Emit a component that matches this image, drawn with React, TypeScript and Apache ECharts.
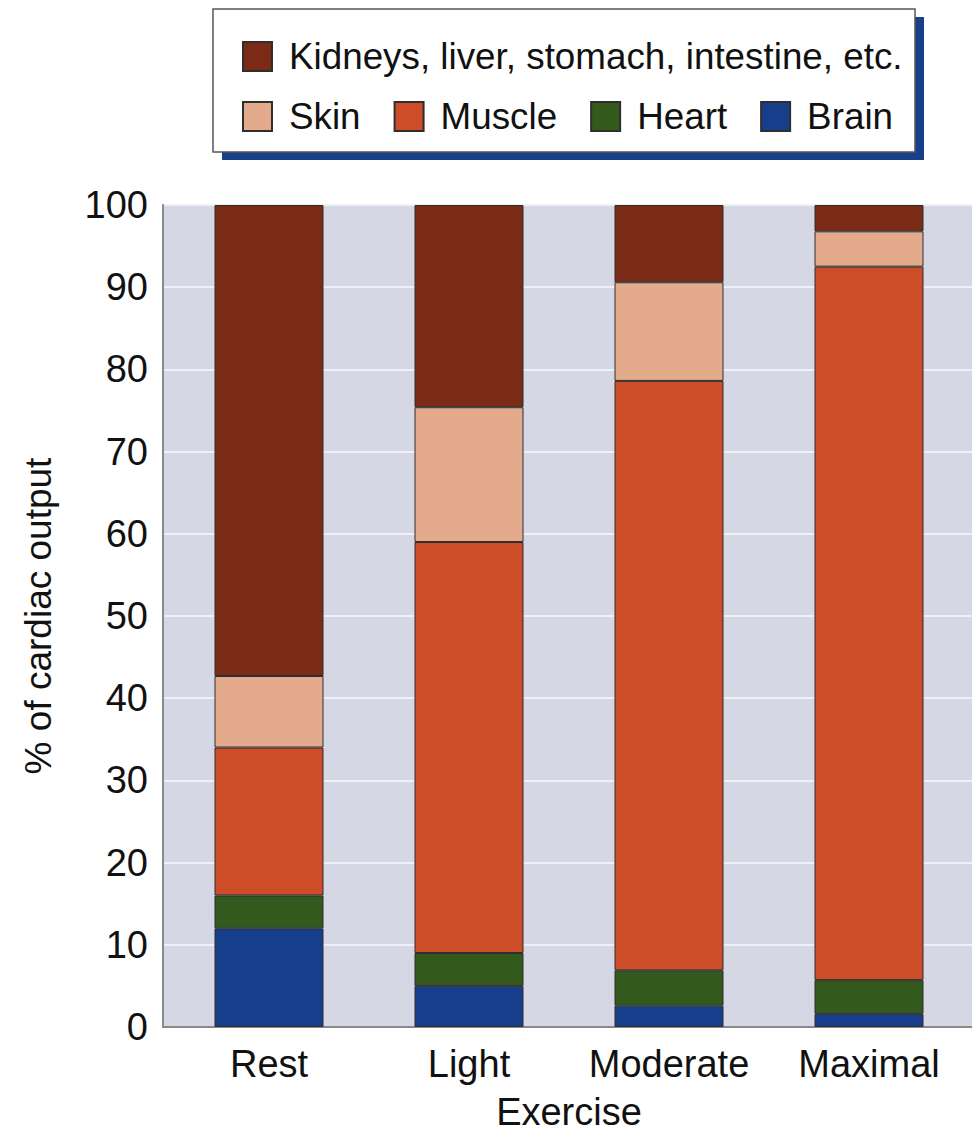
import React, { useEffect, useRef } from "react";
import * as echarts from "echarts";

const categories = ["Rest", "Light", "Moderate", "Maximal"];
const brain = [12, 5, 2.6, 1.6];
const heart = [4, 4, 4.3, 4.1];
const muscle = [18, 50, 71.7, 86.8];
const skin = [8.7, 16.4, 12, 4.3];
const kidneys = [57.3, 24.6, 9.4, 3.2];

const seriesNames = {
  kidneys: "Kidneys, liver, stomach, intestine, etc.",
  skin: "Skin",
  muscle: "Muscle",
  heart: "Heart",
  brain: "Brain",
};

const colors = {
  kidneys: "#7b2a15",
  skin: "#e3ab8c",
  muscle: "#cd4d29",
  heart: "#34591c",
  brain: "#173e8a",
};

const FONT = "'Liberation Sans', Arial, Helvetica, sans-serif";

export default function App() {
  const ref = useRef<HTMLDivElement>(null);
  useEffect(() => {
    if (!ref.current) return;
    const chart = echarts.init(ref.current, null, { renderer: "svg" });
    const mk = (key: keyof typeof colors, data: number[]) => ({
      name: seriesNames[key],
      type: "bar",
      stack: "total",
      xAxisIndex: 1,
      yAxisIndex: 1,
      barWidth: 109,
      data,
      itemStyle: { color: colors[key], borderColor: "#2e2e2e", borderWidth: 1 },
    });
    const legendText = {
      fontFamily: FONT,
      fontSize: 36.8,
      color: "#111",
      lineHeight: 37,
      padding: [0, 0, 0, 12],
    };
    chart.setOption({
      animation: false,
      backgroundColor: "#ffffff",
      textStyle: { fontFamily: FONT },
      graphic: [
        {
          type: "rect",
          z: 0,
          shape: { x: 222, y: 17, width: 702, height: 143 },
          style: { fill: "#173f8a" },
        },
        {
          type: "rect",
          z: 1,
          shape: { x: 213, y: 9, width: 702, height: 143 },
          style: { fill: "#ffffff", stroke: "#555555", lineWidth: 1.5 },
        },
      ],
      legend: [
        {
          data: [seriesNames.kidneys],
          left: 242,
          top: 38,
          padding: 0,
          itemWidth: 29,
          itemHeight: 29,
          icon: "rect",
          textStyle: legendText,
          z: 5,
        },
        {
          data: [seriesNames.skin, seriesNames.muscle, seriesNames.heart, seriesNames.brain],
          left: 242,
          top: 98,
          padding: 0,
          itemWidth: 29,
          itemHeight: 29,
          itemGap: 33,
          icon: "rect",
          textStyle: legendText,
          z: 5,
        },
      ],
      grid: [
        {
          left: 163,
          right: -2,
          top: 205,
          bottom: 105,
          show: true,
          backgroundColor: "#d5d7e4",
          borderColor: "#8a8a8a",
          borderWidth: 1.5,
          outerBoundsMode: "none",
          containLabel: false,
        },
        {
          left: 169,
          right: 3,
          top: 205,
          bottom: 105,
          outerBoundsMode: "none",
          containLabel: false,
        },
      ],
      xAxis: [
        {
          gridIndex: 0,
          type: "value",
          min: 0,
          max: 1,
          axisLine: { show: true, lineStyle: { color: "#8a8a8a", width: 2 } },
          axisTick: { show: false },
          axisLabel: { show: false },
          splitLine: { show: false },
        },
        {
          gridIndex: 1,
          type: "category",
          data: categories,
          axisLine: { show: false },
          axisTick: { show: false },
          axisLabel: { interval: 0, fontSize: 38, color: "#111", margin: 18, fontFamily: FONT },
          name: "Exercise",
          nameLocation: "middle",
          nameGap: 66,
          nameTextStyle: { fontSize: 38, color: "#111", fontFamily: FONT },
        },
      ],
      yAxis: [
        {
          gridIndex: 0,
          type: "value",
          min: 0,
          max: 100,
          interval: 10,
          axisLine: { show: true, lineStyle: { color: "#8a8a8a", width: 2 } },
          axisTick: { show: false },
          axisLabel: { fontSize: 38, color: "#111", margin: 15, fontFamily: FONT },
          splitLine: { show: true, lineStyle: { color: "#eef0f5", width: 2 } },
          name: "% of cardiac output",
          nameLocation: "middle",
          nameGap: 106,
          nameTextStyle: { fontSize: 37, color: "#111", fontFamily: FONT },
        },
        {
          gridIndex: 1,
          type: "value",
          min: 0,
          max: 100,
          show: false,
          splitLine: { show: false },
        },
      ],
      series: [
        mk("brain", brain),
        mk("heart", heart),
        mk("muscle", muscle),
        mk("skin", skin),
        mk("kidneys", kidneys),
      ],
    });
    return () => chart.dispose();
  }, []);
  return (
    <div
      ref={ref}
      style={{ position: "fixed", left: 0, top: 0, width: 972, height: 1132 }}
    />
  );
}
